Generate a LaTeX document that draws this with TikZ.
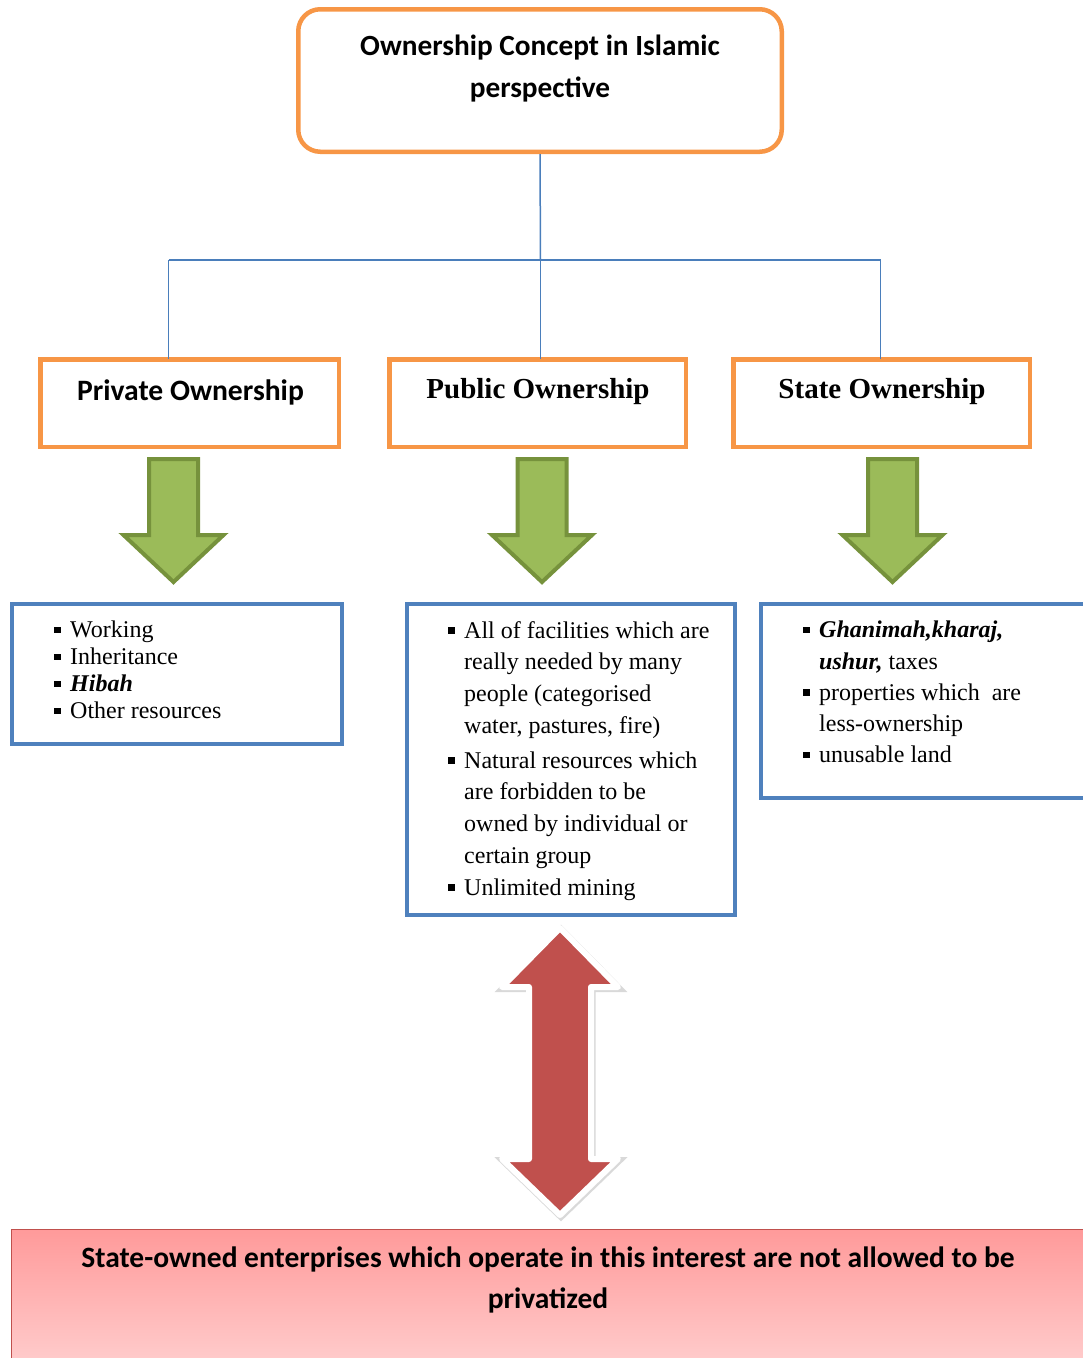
\documentclass[tikz,border=0pt]{standalone}
\usepackage{fontspec}
\setmainfont{Liberation Serif}
\newfontfamily\calib{Carlito}
\usetikzlibrary{shadows,calc}
\definecolor{orng}{HTML}{F79646}
\definecolor{blu}{HTML}{4F81BD}
\definecolor{conncol}{HTML}{4A7EBB}
\definecolor{grnfill}{HTML}{9BBB59}
\definecolor{grnline}{HTML}{76923C}
\definecolor{redarrow}{HTML}{C0504D}
\definecolor{pinktop}{HTML}{FF9A9A}
\definecolor{pinkbot}{HTML}{FFD2D2}
\newcommand\bul{\makebox[16pt][l]{\rule[4.5pt]{6.5pt}{6.5pt}}}
\newcommand\ind{\hspace*{16pt}}
\tikzset{
  orangebox/.style={draw=orng, line width=4.5pt, inner sep=0pt},
  bluebox/.style={draw=blu, line width=4pt, inner sep=0pt},
  conn/.style={draw=conncol, line width=1.5pt},
  greenarrow/.style={draw=grnline, fill=grnfill, line width=4pt, line join=miter},
  calttl/.style={font=\calib\bfseries\fontsize{29.3pt}{29pt}\selectfont, inner sep=0pt, anchor=base},
  timttl/.style={font=\bfseries\fontsize{29pt}{29pt}\selectfont, inner sep=0pt, anchor=base},
  listtxt/.style={align=left, anchor=north west, inner sep=0pt},
}
\begin{document}
\begin{tikzpicture}[x=1pt,y=-1pt]
\useasboundingbox (0,0) rectangle (1083,1358);

% connectors
\coordinate (hub) at (540.5,260);
\coordinate (c1) at (168.5,260);
\coordinate (c3) at (880.5,260);

% top box
\node[orangebox, rounded corners=22pt, minimum width=483.5pt, minimum height=142.5pt] (top) at (540,80.5) {};
\node[calttl] (topt1) at (540,55) {Ownership Concept in Islamic};
\node[calttl] (topt2) at (540,97) {perspective};

% level boxes
\node[orangebox, minimum width=298.5pt, minimum height=87.5pt] (priv) at (189.5,403) {};
\node[orangebox, minimum width=296.5pt, minimum height=87.5pt] (pub) at (537.5,403) {};
\node[orangebox, minimum width=296.5pt, minimum height=87.5pt] (state) at (881.5,403) {};

\draw[conn] (top.south) -- (hub);
\draw[conn] (c1) -- (c3);
\draw[conn] (c1) -- ($(priv.north -| c1)+(0,2)$);
\draw[conn] (hub) -- ($(pub.north -| hub)+(0,2)$);
\draw[conn] (c3) -- ($(state.north -| c3)+(0,2)$);

\node[calttl, font=\calib\bfseries\fontsize{29.6pt}{29pt}\selectfont] (privt) at (190.5,400) {Private Ownership};
\node[timttl] (pubt) at (538,398) {Public Ownership};
\node[timttl] (statet) at (882,398) {State Ownership};

% green arrows
\foreach \cx/\nm in {173.5/ga1, 542/ga2, 892.5/ga3}{
  \draw[greenarrow] (\cx-24.5,459) -- (\cx+24.5,459) -- (\cx+24.5,535) -- (\cx+50,535)
    -- (\cx,582) -- (\cx-50,535) -- (\cx-24.5,535) -- cycle;
}

% list boxes
\node[bluebox, anchor=north west, minimum width=330pt, minimum height=140pt] (privbox) at (10,602) {};
\node[bluebox, anchor=north west, minimum width=328pt, minimum height=311pt] (pubbox) at (405,602) {};
\node[bluebox, anchor=north west, minimum width=400pt, minimum height=194pt] (statebox) at (759,602) {};

\node[listtxt, font=\fontsize{24pt}{27pt}\selectfont] (privl) at (54,621)
  {\bul Working\\ \bul Inheritance\\ \bul \textbf{\textit{Hibah}}\\ \bul Other resources};
\node[listtxt, font=\fontsize{24pt}{31.7pt}\selectfont] (publ) at (448,621)
  {\bul All of facilities which are\\ \ind really needed by many\\ \ind people (categorised\\ \ind water, pastures, fire)\\[3.3pt]
   \bul Natural resources which\\ \ind are forbidden to be\\ \ind owned by individual or\\ \ind certain group\\ \bul Unlimited mining};
\node[listtxt, font=\fontsize{24pt}{31.25pt}\selectfont] (statel) at (803,621)
  {\bul \textbf{\textit{Ghanimah,kharaj,}}\\ \ind\textbf{\textit{ushur,}} taxes\\ \bul properties which\ \ are\\ \ind less-ownership\\ \bul unusable land};

% bottom box
\node[draw=redarrow, line width=1.5pt, top color=pinktop, bottom color=pinkbot, anchor=north west,
      minimum width=1100pt, minimum height=150pt, inner sep=0pt] (bot) at (10.75,1228.75) {};
\node[calttl, font=\calib\bfseries\fontsize{29.5pt}{29pt}\selectfont] (bott1) at (548,1267)
  {State-owned enterprises which operate in this interest are not allowed to be};
\node[calttl, font=\calib\bfseries\fontsize{29.5pt}{29pt}\selectfont] (bott2) at (548,1308) {privatized};

% red double arrow
\draw[white, line width=6pt, line join=round, fill=redarrow,
      drop shadow={shadow xshift=1pt, shadow yshift=-1.5pt, opacity=0.15, fill=black, draw=black, line width=7pt}]
  (560,928) -- (618,987) -- (591,987) -- (591,1159) -- (618,1159) -- (560,1215)
  -- (502,1159) -- (529,1159) -- (529,987) -- (502,987) -- cycle;
\end{tikzpicture}
\end{document}
